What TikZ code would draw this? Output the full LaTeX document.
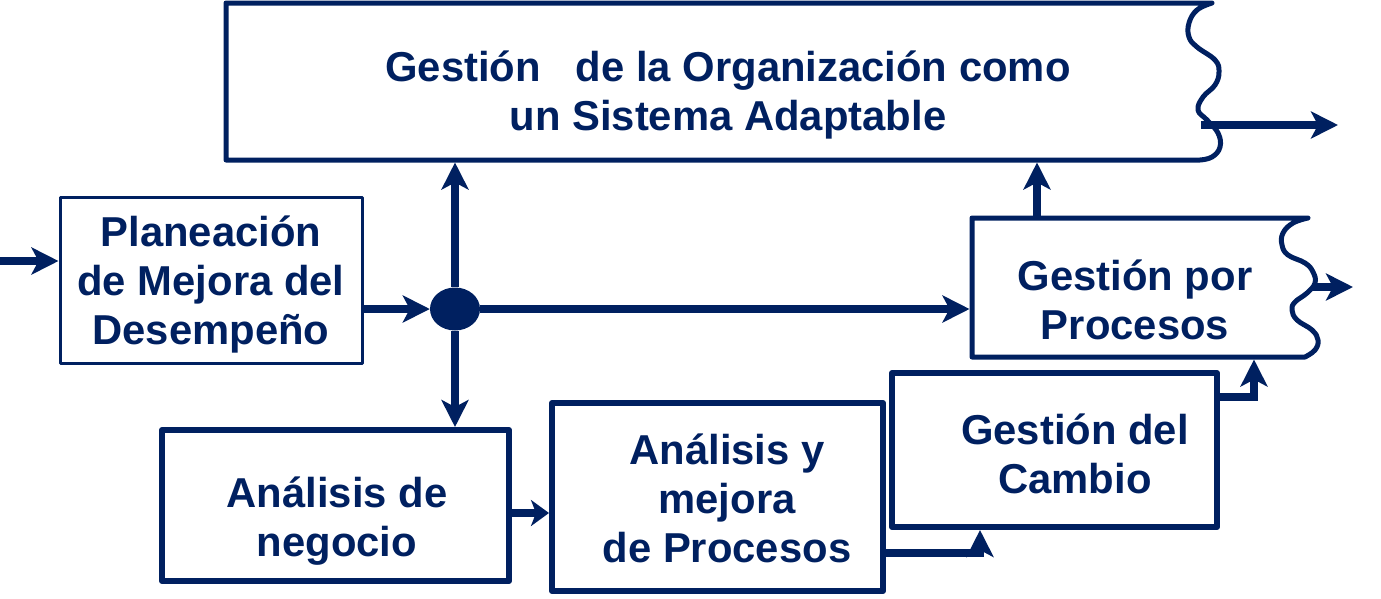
\documentclass[tikz,border=0pt]{standalone}
\usepackage{fontspec}
\setmainfont{Liberation Sans}
\usetikzlibrary{arrows.meta,shapes.geometric}
\definecolor{navy}{RGB}{0,32,96}
\begin{document}
\begin{tikzpicture}[x=1pt,y=-1pt,
  boxframe/.style={draw=navy, line width=#1, inner sep=0pt, outer sep=0.5*#1, line join=round},
  ghost/.style={draw=none, inner sep=0pt, outer sep=2.5pt},
  wavy/.style={draw=navy, line width=5pt, line join=round, line cap=round},
  txt/.style={text=navy, font=\bfseries\fontsize{41.8}{49}\selectfont, align=center, inner sep=0pt},
  arr/.style={draw=navy, line width=8pt, -{Stealth[length=27pt,width=27pt,inset=7pt]}},
  arrshort/.style={draw=navy, line width=8pt, -{Stealth[length=18pt,width=26pt,inset=5pt]}}]
\useasboundingbox (0,0) rectangle (1381,598);

% boxes
\node[ghost, minimum width=984pt, minimum height=157pt] (org) at (718,81.5) {};
\node[ghost, minimum width=336pt, minimum height=139pt] (gpp) at (1140,287.5) {};
\node[boxframe=3pt, minimum width=302pt, minimum height=166pt] (plan) at (211,280) {};
\node[boxframe=6pt, minimum width=347pt, minimum height=151pt] (adn) at (335.5,505.5) {};
\node[boxframe=6pt, minimum width=331pt, minimum height=188pt] (aym) at (717.5,497) {};
\node[boxframe=6pt, minimum width=325pt, minimum height=154pt] (gdc) at (1054.5,450) {};
\node[ellipse, fill=navy, inner sep=0pt, minimum width=50pt, minimum height=43pt] (junc) at (455,309) {};

% wavy-edged boxes
\draw[wavy] (1212,3) -- (226,3) -- (226,160) -- (1200,160) -- plot[smooth, tension=0.7] coordinates {(1200,160) (1212,157) (1220,147) (1218,133) (1207,120) (1198,110) (1203,97) (1215,85) (1219,72) (1215,60) (1197,47) (1189,37) (1189,23) (1197,10) (1212,3)} -- cycle;
\draw[wavy] (1308,218) -- (972,218) -- (972,357) -- (1305,357) -- plot[smooth, tension=0.7] coordinates {(1305,357) (1315,350) (1318,340) (1312,330) (1297,320) (1292,310) (1295,302) (1307,293) (1315,283) (1313,272) (1305,263) (1288,255) (1282,245) (1283,233) (1293,223) (1308,218)} -- cycle;

% texts
\node[txt] (orgt) at (728,96) {\strut Gestión\ \ \ de la Organización como\\\strut un Sistema Adaptable};
\node[txt] (plant) at (211,286) {\strut Planeación\\\strut de Mejora del\\\strut Desempeño};
\node[txt] (gppt) at (1135,305) {\strut Gestión por\\\strut Procesos};
\node[txt] (adnt) at (337,522) {\strut Análisis de\\\strut negocio};
\node[txt] (aymt) at (727,504) {\strut Análisis y\\\strut mejora\\\strut de Procesos};
\node[txt] (gdct) at (1075,459) {\strut Gestión del\\\strut Cambio};

% helper coordinates
\coordinate (inp) at (0,261);
\coordinate (orgstart) at (1201,125);
\coordinate (orgout) at (1338,125);
\coordinate (gppstart) at (1313,287);
\coordinate (gppout) at (1353,287);
\coordinate (gppup) at (1037,0);
\coordinate (hA) at (0,513);
\coordinate (hB) at (980,553);
\coordinate (hC) at (1254,397);

% connectors
\draw[arr] (inp) -- (inp -| plan.west);
\draw[arr] (plan.east |- junc) -- (junc.west);
\draw[arr] (junc.north) -- (junc |- org.south);
\draw[arr] (junc.south) -- (junc |- adn.north);
\draw[arr] (junc.east) -- (junc -| gpp.west);
\draw[arr] (gpp.north -| gppup) -- (gppup |- org.south);
\draw[arr] (orgstart) -- (orgout);
\draw[arr] (gppstart) -- (gppout);
\draw[arrshort] (adn.east |- hA) -- (aym.west |- hA);
\draw[arr] (aym.east |- hB) -| (gdc.south -| hB);
\draw[arr] (gdc.east |- hC) -| (gpp.south -| hC);
\end{tikzpicture}
\end{document}
